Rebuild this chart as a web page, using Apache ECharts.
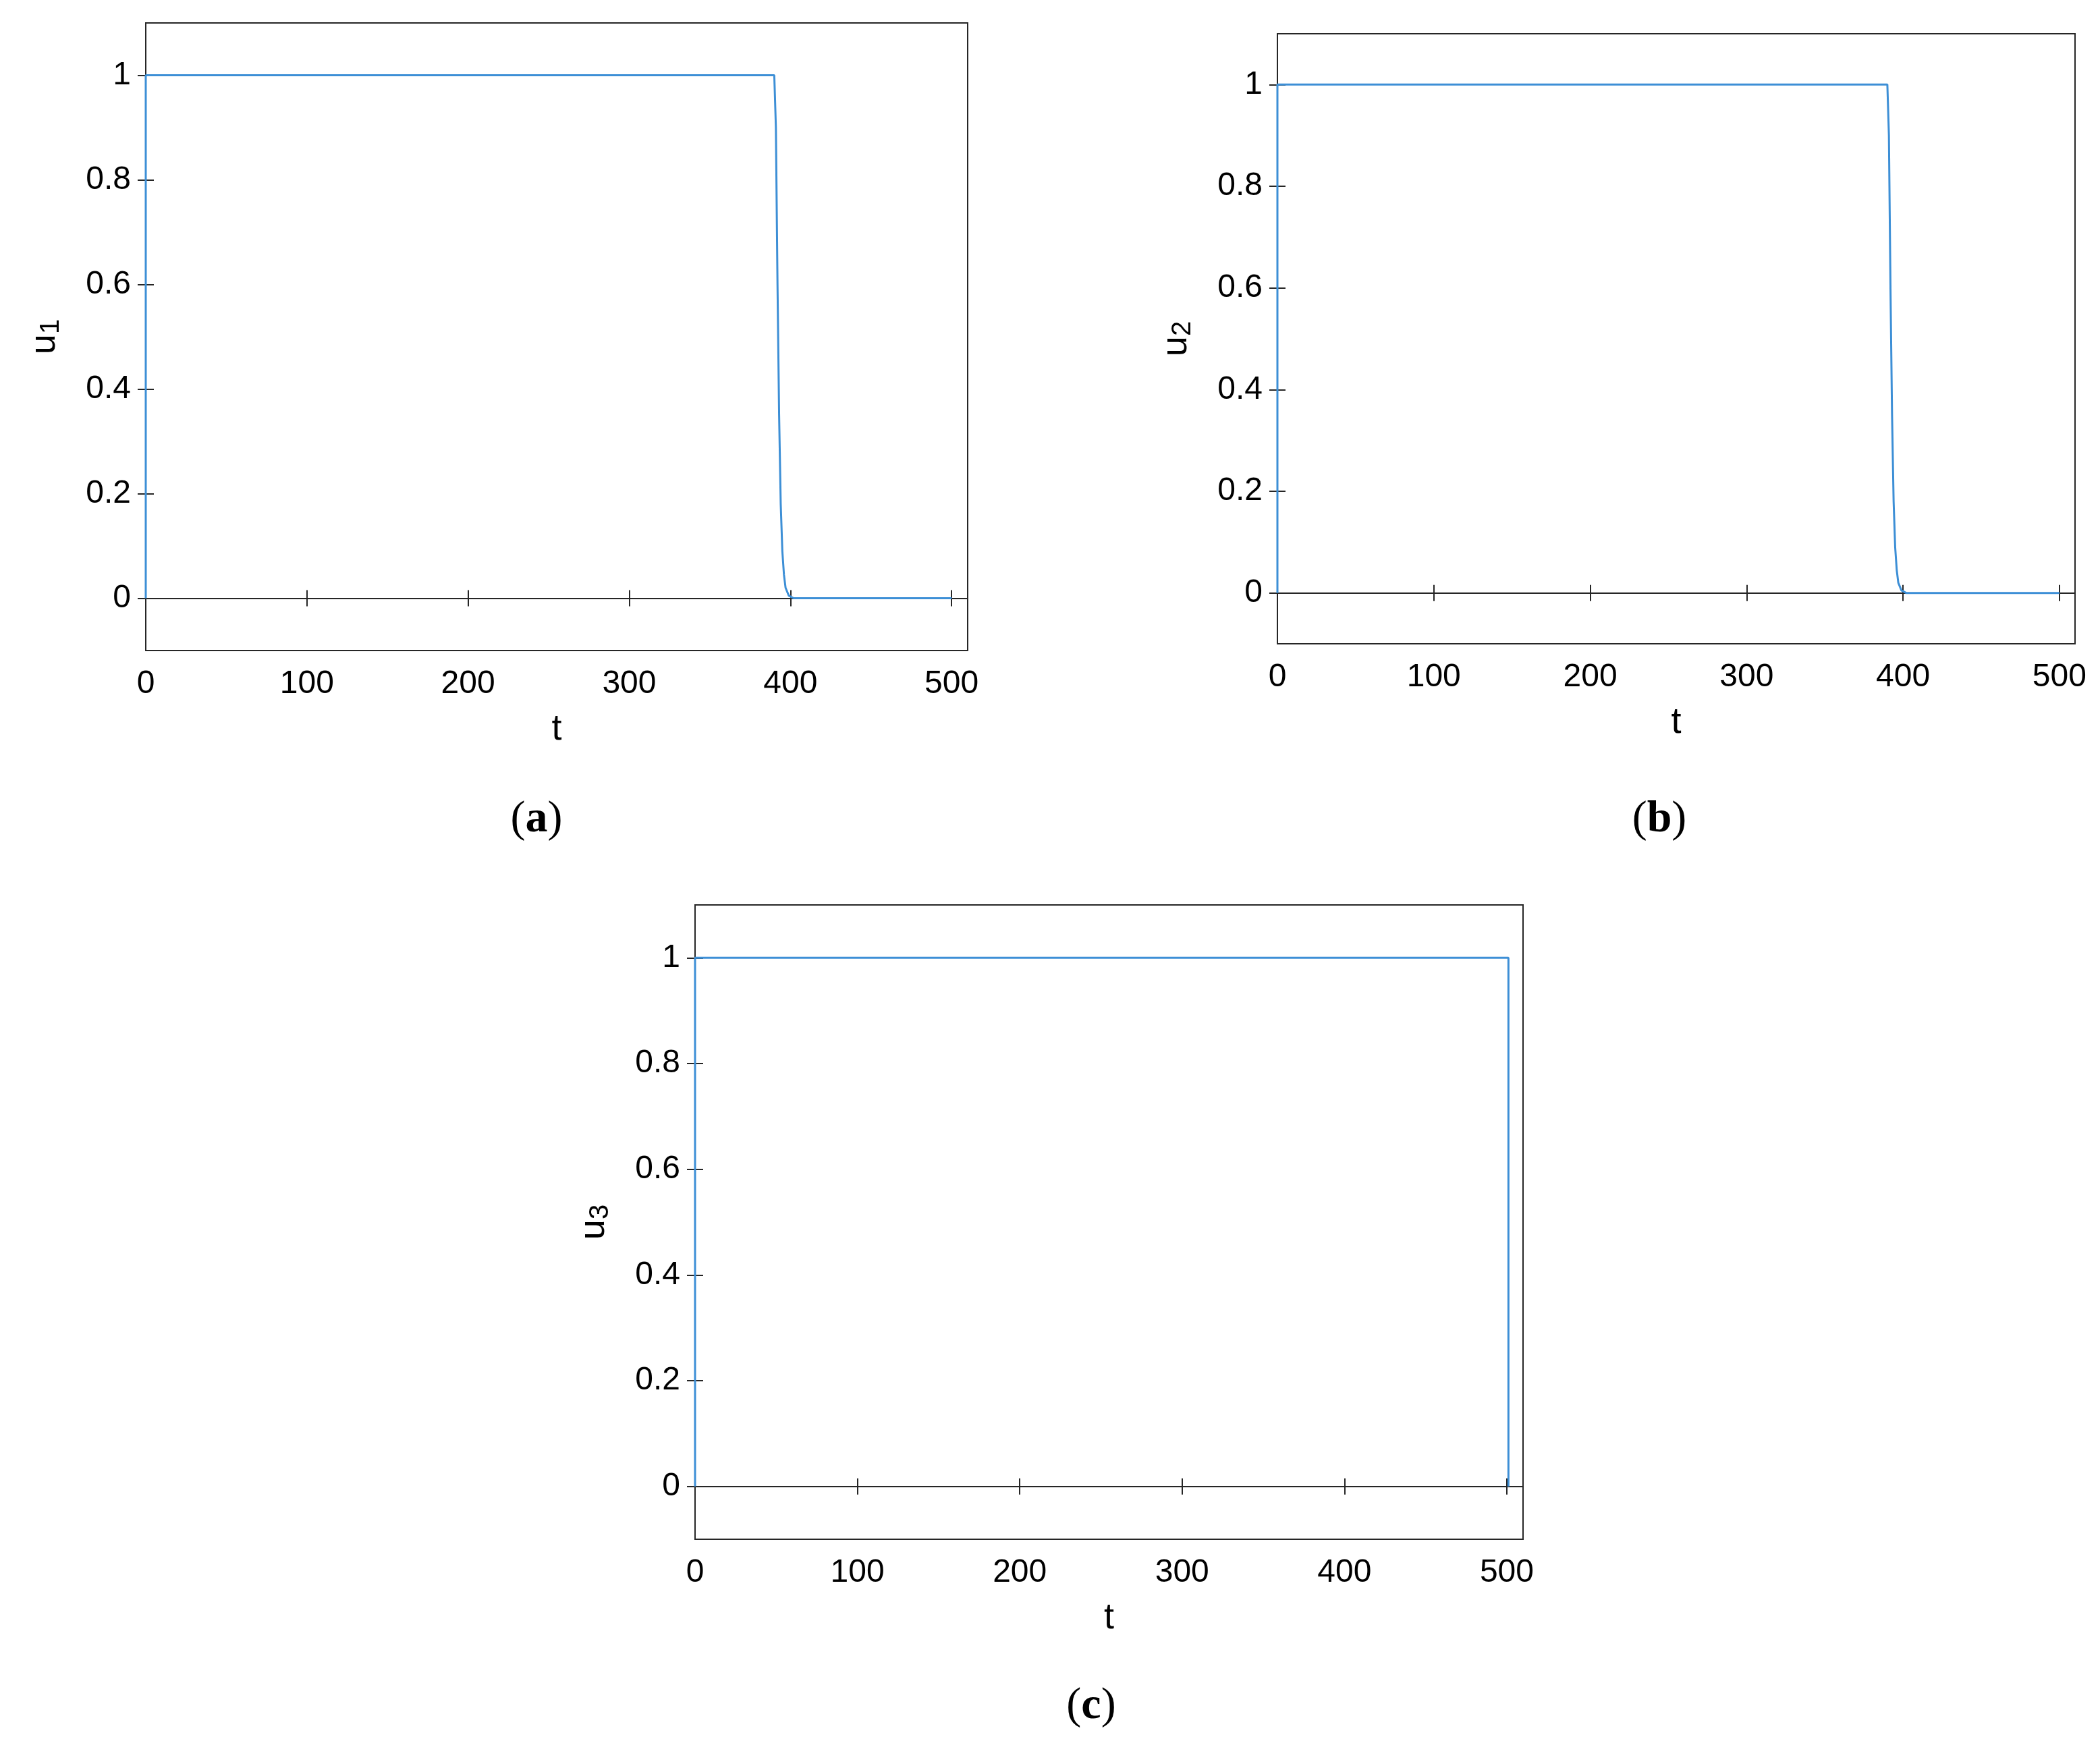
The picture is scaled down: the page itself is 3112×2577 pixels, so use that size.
<!DOCTYPE html>
<html>
<head>
<meta charset="utf-8">
<script src="https://cdn.jsdelivr.net/npm/echarts@6/dist/echarts.min.js"></script>
<style>
  html, body { margin: 0; padding: 0; background: #fff; }
  #main { width: 3112px; height: 2577px; }
</style>
</head>
<body>
<div id="main"></div>
<script>
// data
var xTicks = [0, 100, 200, 300, 400, 500];
var yTicks = [0, 0.2, 0.4, 0.6, 0.8, 1];
var u1 = [[0, 0], [0, 1], [390, 1], [391, 0.9], [392, 0.6], [393, 0.35], [394, 0.18], [395, 0.09],
          [396, 0.045], [397, 0.02], [399, 0.005], [402, 0], [500, 0]];
var u2 = [[0, 0], [0, 1], [390, 1], [391, 0.9], [392, 0.6], [393, 0.35], [394, 0.18], [395, 0.09],
          [396, 0.045], [397, 0.02], [399, 0.005], [402, 0], [500, 0]];
var u3 = [[0, 0], [0, 1], [501, 1], [501, 0]];
var yNames = ['1', '2', '3'];
var captions = ['a', 'b', 'c'];

var grids = [
  { left: 216, top: 34, width: 1218, height: 930 },
  { left: 1893, top: 50, width: 1182, height: 904 },
  { left: 1030, top: 1341, width: 1227, height: 940 }
];
var captionPos = [[790, 1210], [2454, 1210], [1612, 2524]];
var seriesData = [u1, u2, u3];

var dark = '#262626';
var font = 'Liberation Sans';
var option = { animation: false, grid: [], xAxis: [], yAxis: [], series: [], title: [] };

grids.forEach(function (g, i) {
  option.grid.push(Object.assign({ show: true, borderColor: dark, borderWidth: 2 }, g));
  // bottom / left axes with labels
  option.xAxis.push({
    type: 'value', gridIndex: i, min: 0, max: 510, position: 'bottom',
    name: 't', nameLocation: 'middle', nameGap: 90,
    nameTextStyle: { fontFamily: font, fontSize: 54, color: '#000' },
    axisLine: { lineStyle: { color: dark, width: 2 } },
    axisTick: { inside: true, length: 12, customValues: xTicks, lineStyle: { color: dark, width: 2 } },
    axisLabel: { customValues: xTicks, fontFamily: font, fontSize: 48, color: '#000', margin: 26 },
    splitLine: { show: false }
  });
  option.xAxis.push({
    type: 'value', gridIndex: i, min: 0, max: 510, position: 'top',
    axisLine: { lineStyle: { color: dark, width: 2 } },
    axisTick: { inside: true, length: 12, customValues: xTicks, lineStyle: { color: dark, width: 2 } },
    axisLabel: { show: false }, splitLine: { show: false }
  });
  option.yAxis.push({
    type: 'value', gridIndex: i, min: -0.1, max: 1.1, position: 'left',
    name: '{u|u}{s|' + yNames[i] + '}', nameLocation: 'middle', nameGap: 120, nameRotate: 90,
    nameTextStyle: { rich: {
      u: { fontFamily: font, fontSize: 54, color: '#000' },
      s: { fontFamily: font, fontSize: 40, color: '#000', verticalAlign: 'bottom', padding: [20, 0, 0, 0] }
    } },
    axisLine: { lineStyle: { color: dark, width: 2 } },
    axisTick: { inside: true, length: 12, customValues: yTicks, lineStyle: { color: dark, width: 2 } },
    axisLabel: { customValues: yTicks, fontFamily: font, fontSize: 48, color: '#000', margin: 22 },
    splitLine: { show: false }
  });
  option.yAxis.push({
    type: 'value', gridIndex: i, min: -0.1, max: 1.1, position: 'right',
    axisLine: { lineStyle: { color: dark, width: 2 } },
    axisTick: { inside: true, length: 12, customValues: yTicks, lineStyle: { color: dark, width: 2 } },
    axisLabel: { show: false }, splitLine: { show: false }
  });
  option.series.push({
    type: 'line', xAxisIndex: i * 2, yAxisIndex: i * 2, data: seriesData[i],
    showSymbol: false, smooth: false, lineStyle: { color: '#3d8fd6', width: 3 }
  });
  option.title.push({
    text: '({b|' + captions[i] + '})', left: captionPos[i][0], top: captionPos[i][1],
    textAlign: 'center', textVerticalAlign: 'middle',
    textStyle: { fontFamily: 'Liberation Serif', fontSize: 66, fontWeight: 'normal', color: '#000',
      rich: { b: { fontFamily: 'Liberation Serif', fontSize: 66, fontWeight: 'bold', color: '#000' } } }
  });
});

var myChart = echarts.init(document.getElementById('main'));
myChart.setOption(option);
</script>
</body>
</html>
